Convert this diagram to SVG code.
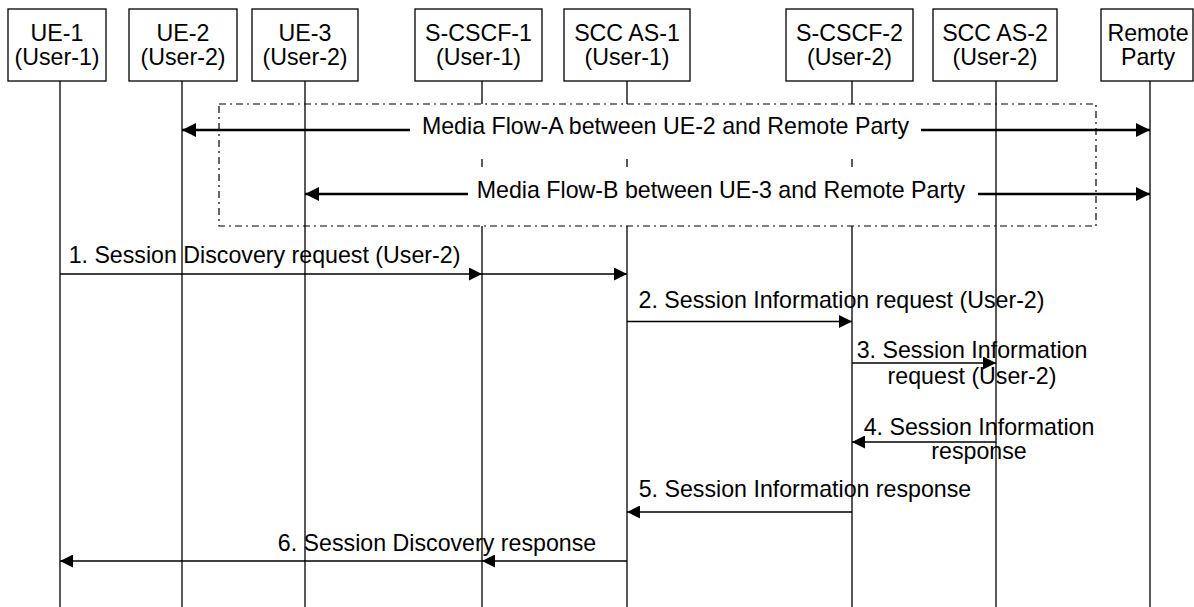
<svg xmlns="http://www.w3.org/2000/svg" width="1194" height="607" viewBox="0 0 1194 607">
<defs>
<style>
text{font-family:"Liberation Sans",Arial,sans-serif;font-size:23.2px;fill:#000}
.c{text-anchor:middle}
.box{fill:#fff;stroke:#000;stroke-width:1.3}
.life{stroke:#000;stroke-width:1.3;fill:none}
.msg{stroke:#000;stroke-width:1.6;fill:none;marker-end:url(#ah)}
.media{stroke:#000;stroke-width:2.6;fill:none;marker-end:url(#ahm)}
.frame{fill:none;stroke:#000;stroke-width:1.2;stroke-dasharray:7 4 2 4}
</style>
<marker id="ah" markerUnits="userSpaceOnUse" markerWidth="13" markerHeight="13" viewBox="0 0 12 12" refX="12" refY="6" orient="auto">
<path d="M0,0 L12,6 L0,12 Z" fill="#000"/>
</marker>
<marker id="ahm" markerUnits="userSpaceOnUse" markerWidth="14" markerHeight="14" viewBox="0 0 13 13" refX="13" refY="6.5" orient="auto">
<path d="M0,0 L13,6.5 L0,13 Z" fill="#000"/>
</marker>
</defs>
<rect width="1194" height="607" fill="#fff"/>

<g id="lifelines">
<line class="life" x1="60" y1="81" x2="60" y2="607"/>
<line class="life" x1="182" y1="81" x2="182" y2="607"/>
<line class="life" x1="305" y1="81" x2="305" y2="607"/>
<path class="life" d="M482,81V104M482,159V167M482,226V607"/>
<path class="life" d="M627,81V104M627,159V167M627,226V607"/>
<path class="life" d="M852,81V104M852,159V167M852,226V607"/>
<line class="life" x1="996" y1="81" x2="996" y2="607"/>
<line class="life" x1="1150" y1="81" x2="1150" y2="607"/>
</g>

<g id="ue1"><rect class="box" x="8" y="9" width="98" height="72"/><text class="c" x="57" y="41">UE-1</text><text class="c" x="57" y="65">(User-1)</text></g>
<g id="ue2"><rect class="box" x="129" y="9" width="108" height="72"/><text class="c" x="183" y="41">UE-2</text><text class="c" x="183" y="65">(User-2)</text></g>
<g id="ue3"><rect class="box" x="252" y="9" width="106" height="72"/><text class="c" x="305" y="41">UE-3</text><text class="c" x="305" y="65">(User-2)</text></g>
<g id="scscf1"><rect class="box" x="415" y="9" width="127" height="72"/><text class="c" x="478.5" y="41">S-CSCF-1</text><text class="c" x="478.5" y="65">(User-1)</text></g>
<g id="sccas1"><rect class="box" x="564" y="9" width="126" height="72"/><text class="c" x="627" y="41">SCC AS-1</text><text class="c" x="627" y="65">(User-1)</text></g>
<g id="scscf2"><rect class="box" x="786" y="9" width="127" height="72"/><text class="c" x="849.5" y="41">S-CSCF-2</text><text class="c" x="849.5" y="65">(User-2)</text></g>
<g id="sccas2"><rect class="box" x="933" y="9" width="124" height="72"/><text class="c" x="995" y="41">SCC AS-2</text><text class="c" x="995" y="65">(User-2)</text></g>
<g id="remote"><rect class="box" x="1101" y="9" width="92" height="72"/><text class="c" x="1148" y="41">Remote</text><text class="c" x="1148" y="65">Party</text></g>

<g id="mediaframe">
<rect class="frame" x="219" y="104" width="877" height="122"/>
</g>

<g id="connectors">
<line class="media" x1="410" y1="130" x2="182" y2="130"/>
<line class="media" x1="921" y1="130" x2="1150" y2="130"/>
<text class="c" x="665.5" y="134">Media Flow-A between UE-2 and Remote Party</text>
<line class="media" x1="468" y1="194" x2="305" y2="194"/>
<line class="media" x1="978" y1="194" x2="1150" y2="194"/>
<text class="c" x="721" y="198">Media Flow-B between UE-3 and Remote Party</text>

<line class="msg" x1="60" y1="274" x2="482" y2="274"/>
<line class="msg" x1="482" y1="274" x2="627" y2="274"/>
<text class="c" x="264.5" y="263">1. Session Discovery request (User-2)</text>

<line class="msg" x1="627" y1="321.5" x2="852" y2="321.5"/>
<text class="c" x="841.5" y="308">2. Session Information request (User-2)</text>

<line class="msg" x1="852" y1="363" x2="996" y2="363"/>
<text class="c" x="972" y="358">3. Session Information</text>
<text class="c" x="972" y="384">request (User-2)</text>

<line class="msg" x1="996" y1="442" x2="852" y2="442"/>
<text class="c" x="979" y="435">4. Session Information</text>
<text class="c" x="979" y="459">response</text>

<line class="msg" x1="852" y1="512" x2="627" y2="512"/>
<text class="c" x="805" y="497">5. Session Information response</text>

<line class="msg" x1="627" y1="561" x2="482" y2="561"/>
<line class="msg" x1="482" y1="561" x2="60" y2="561"/>
<text class="c" x="437" y="551">6. Session Discovery response</text>
</g>
</svg>
